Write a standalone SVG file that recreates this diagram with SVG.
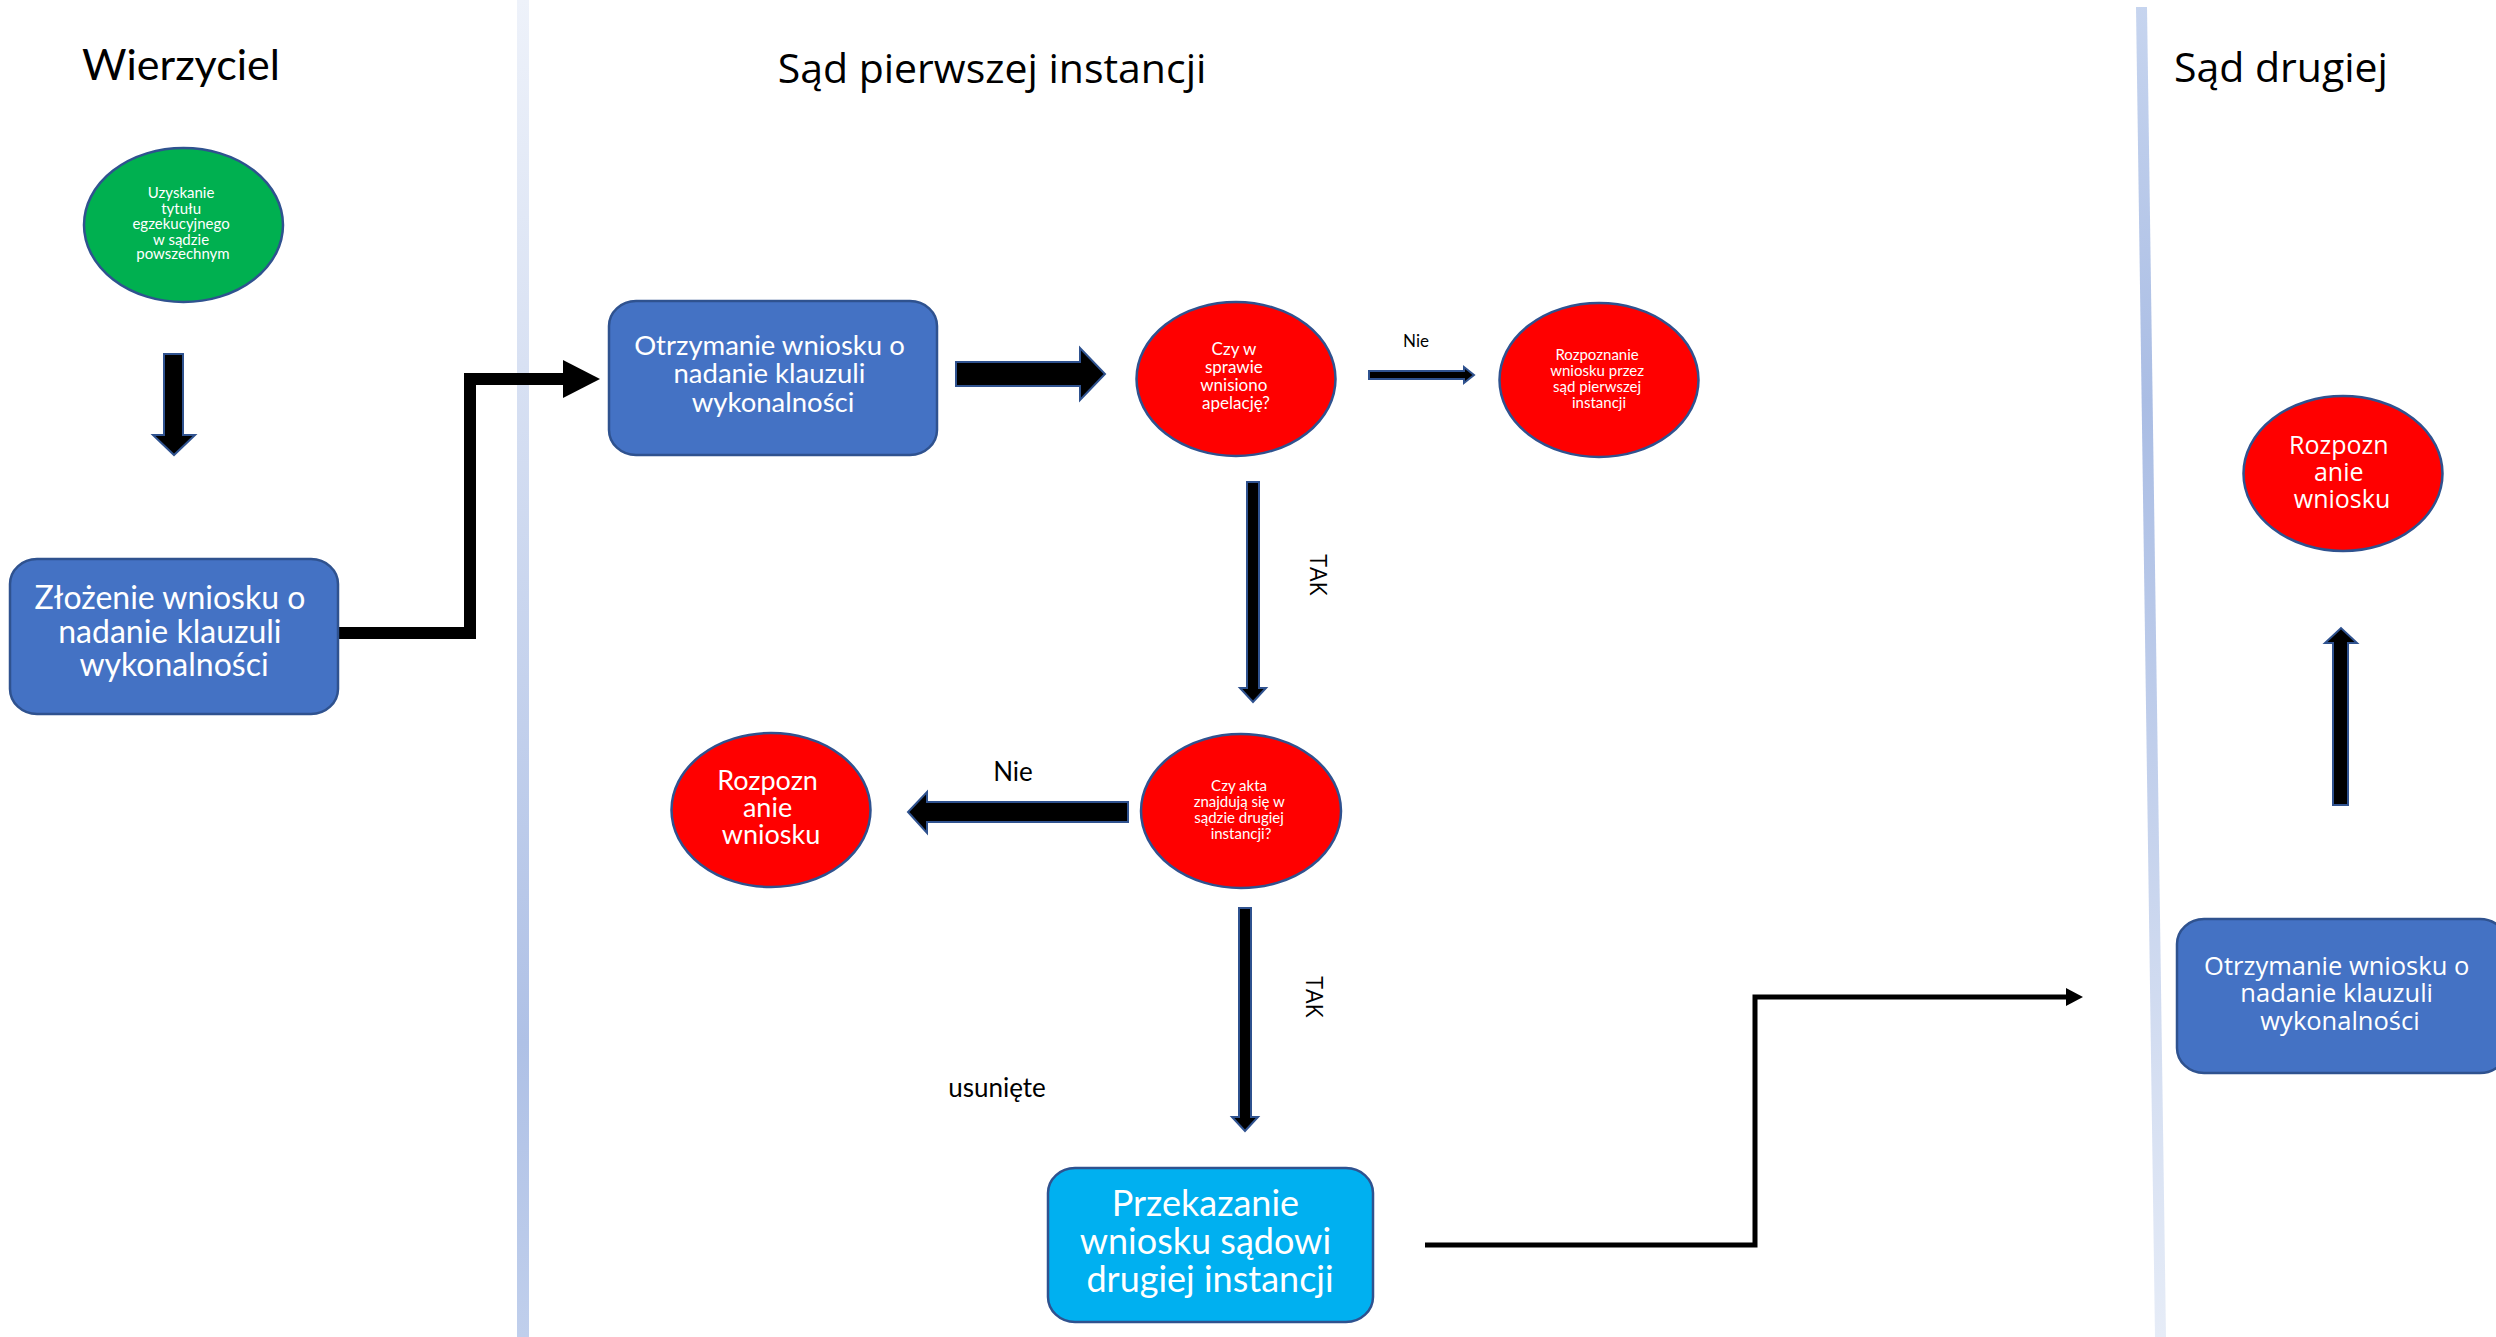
<svg xmlns="http://www.w3.org/2000/svg" width="2496" height="1337" viewBox="0 0 2496 1337">
<style>
.cal{font-family:Lato,"Liberation Sans",sans-serif}
.seg{font-family:"Open Sans","Noto Sans",sans-serif}
.w{fill:#fff}
.k{fill:#000}
.box{fill:#4472C4;stroke:#2F528F;stroke-width:2.5}
.red{fill:#FF0000;stroke:#2F528F;stroke-width:2.5}
.arr{fill:#000;stroke:#2F528F;stroke-width:2}
</style>
<defs>
<linearGradient id="lane1" gradientUnits="userSpaceOnUse" x1="0" y1="0" x2="0" y2="1337">
<stop offset="0" stop-color="#EEF2FA"/>
<stop offset="0.78" stop-color="#AFC1E6"/>
<stop offset="1" stop-color="#C0CFEC"/>
</linearGradient>
<linearGradient id="lane2" gradientUnits="userSpaceOnUse" x1="0" y1="0" x2="0" y2="1337">
<stop offset="0" stop-color="#C7D5EF"/>
<stop offset="0.3" stop-color="#AABDE4"/>
<stop offset="1" stop-color="#E6ECF7"/>
</linearGradient>
</defs>
<rect width="2496" height="1337" fill="#fff"/>

<g id="lanes">
<rect x="517" y="0" width="12" height="1337" fill="url(#lane1)"/>
<polygon points="2136,7 2147,7 2166,1337 2155,1337" fill="url(#lane2)"/>
<text class="cal k" x="181" y="80" font-size="43" text-anchor="middle">Wierzyciel</text>
<text class="seg k" x="992" y="83" font-size="41" text-anchor="middle">Sąd pierwszej instancji</text>
<text class="seg k" x="2174" y="82" font-size="41">Sąd drugiej</text>
</g>

<g id="connectors">
<path d="M338,633 H470 V379 H565" fill="none" stroke="#000" stroke-width="12"/>
<polygon points="563,360 600,379 563,398" fill="#000"/>
<path d="M1425,1245 H1755 V997 H2068" fill="none" stroke="#000" stroke-width="5"/>
<polygon points="2066,988 2083,997 2066,1006" fill="#000"/>
<polygon class="arr" points="164,354 183,354 183,435 195,435 174,455 153,435 164,435"/>
<polygon class="arr" points="956,362 1080,362 1080,348 1105,374 1080,400 1080,386 956,386"/>
<polygon class="arr" points="1369,371 1464,371 1464,367 1474,375 1464,383 1464,379 1369,379"/>
<polygon class="arr" points="1247,482 1259,482 1259,688 1266,688 1253,702 1240,688 1247,688"/>
<polygon class="arr" points="1128,802 927,802 927,792 908,812 927,833 927,822 1128,822"/>
<polygon class="arr" points="1239,908 1251,908 1251,1117 1258,1117 1245,1131 1232,1117 1239,1117"/>
<polygon class="arr" points="2333,805 2348,805 2348,643 2357,643 2341,628 2325,643 2333,643"/>
<text class="cal k" x="1416" y="347" font-size="17" text-anchor="middle">Nie</text>
<text class="cal k" x="1013" y="781" font-size="26" text-anchor="middle">Nie</text>
<text class="seg k" transform="translate(1310,575) rotate(90)" font-size="23" text-anchor="middle">TAK</text>
<text class="seg k" transform="translate(1306,997) rotate(90)" font-size="23" text-anchor="middle">TAK</text>
<text class="cal k" x="997" y="1097" font-size="26" text-anchor="middle">usunięte</text>
</g>

<g id="n-uzyskanie">
<ellipse cx="183.5" cy="225" rx="99.5" ry="77" fill="#00B050" stroke="#2F528F" stroke-width="2.5"/>
<text class="cal w" font-size="15" text-anchor="middle">
<tspan x="183" y="198">Uzyskanie</tspan>
<tspan x="183" y="213.5">tytułu</tspan>
<tspan x="183" y="229">egzekucyjnego</tspan>
<tspan x="183" y="244.5">w sądzie</tspan>
<tspan x="183" y="259">powszechnym</tspan>
</text>
</g>

<g id="n-zlozenie">
<rect class="box" x="10" y="559" width="328" height="155" rx="27" ry="25"/>
<text class="cal w" font-size="32" text-anchor="middle">
<tspan x="174" y="609">Złożenie wniosku o</tspan>
<tspan x="174" y="643">nadanie klauzuli</tspan>
<tspan x="174" y="676">wykonalności</tspan>
</text>
</g>

<g id="n-otrzymanie1">
<rect class="box" x="609" y="301" width="328" height="154" rx="27" ry="25"/>
<text class="cal w" font-size="27.5" text-anchor="middle">
<tspan x="773" y="355">Otrzymanie wniosku o</tspan>
<tspan x="773" y="383">nadanie klauzuli</tspan>
<tspan x="773" y="412">wykonalności</tspan>
</text>
</g>

<g id="n-apelacja">
<ellipse class="red" cx="1236" cy="379" rx="99.5" ry="77"/>
<text class="cal w" font-size="17" text-anchor="middle">
<tspan x="1236" y="355">Czy w</tspan>
<tspan x="1236" y="373">sprawie</tspan>
<tspan x="1236" y="391">wnisiono</tspan>
<tspan x="1236" y="409">apelację?</tspan>
</text>
</g>

<g id="n-rozpoznanie1">
<ellipse class="red" cx="1599" cy="380" rx="99.5" ry="77"/>
<text class="cal w" font-size="15" text-anchor="middle">
<tspan x="1599" y="360">Rozpoznanie</tspan>
<tspan x="1599" y="376">wniosku przez</tspan>
<tspan x="1599" y="392">sąd pierwszej</tspan>
<tspan x="1599" y="408">instancji</tspan>
</text>
</g>

<g id="n-akta">
<ellipse class="red" cx="1241" cy="811" rx="100" ry="77"/>
<text class="cal w" font-size="15" text-anchor="middle">
<tspan x="1241" y="791">Czy akta</tspan>
<tspan x="1241" y="807">znajdują się w</tspan>
<tspan x="1241" y="823">sądzie drugiej</tspan>
<tspan x="1241" y="839">instancji?</tspan>
</text>
</g>

<g id="n-rozpoznanie2">
<ellipse class="red" cx="771" cy="810" rx="99.5" ry="77"/>
<text class="cal w" font-size="27" text-anchor="middle">
<tspan x="771" y="790">Rozpozn</tspan>
<tspan x="771" y="817">anie</tspan>
<tspan x="771" y="844">wniosku</tspan>
</text>
</g>

<g id="n-przekazanie">
<rect x="1048" y="1168" width="325" height="154" rx="27" ry="25" fill="#00B0F0" stroke="#2F528F" stroke-width="2.5"/>
<text class="cal w" font-size="36" text-anchor="middle">
<tspan x="1210" y="1216">Przekazanie</tspan>
<tspan x="1210" y="1254">wniosku sądowi</tspan>
<tspan x="1210" y="1292">drugiej instancji</tspan>
</text>
</g>

<g id="n-rozpoznanie3">
<ellipse class="red" cx="2343" cy="473.5" rx="99.5" ry="77.5"/>
<text class="seg w" font-size="25" text-anchor="middle">
<tspan x="2342" y="454">Rozpozn</tspan>
<tspan x="2342" y="481">anie</tspan>
<tspan x="2342" y="508">wniosku</tspan>
</text>
</g>

<g id="n-otrzymanie2">
<rect class="box" x="2177" y="919" width="330" height="154" rx="27" ry="25"/>
<text class="seg w" font-size="25.5" text-anchor="middle">
<tspan x="2340" y="975">Otrzymanie wniosku o</tspan>
<tspan x="2340" y="1002">nadanie klauzuli</tspan>
<tspan x="2340" y="1030">wykonalności</tspan>
</text>
</g>
</svg>
